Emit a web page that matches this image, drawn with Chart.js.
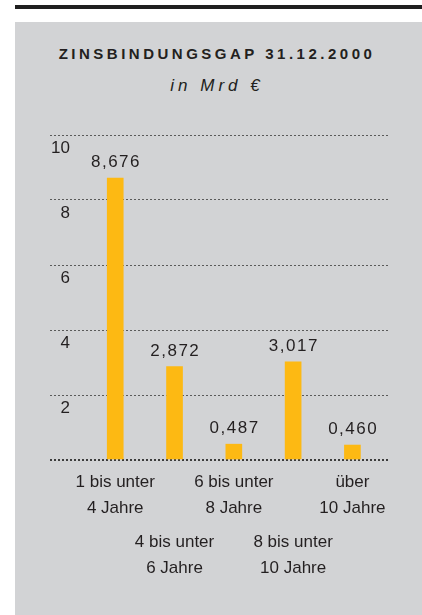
<!DOCTYPE html>
<html lang="de">
<head>
<meta charset="utf-8">
<title>Zinsbindungsgap 31.12.2000</title>
<script src="https://cdn.jsdelivr.net/npm/chart.js@4.4.1/dist/chart.umd.min.js"></script>
<style>
  html, body {
    margin: 0;
    padding: 0;
    background: #ffffff;
    width: 422px;
    height: 615px;
    overflow: hidden;
    font-family: "Liberation Sans", Arial, sans-serif;
    color: #231f20;
  }
  /* thick black rule above the panel */
  #rule {
    position: absolute;
    left: 15px;
    top: 5px;
    width: 407px;
    height: 4px;
    background: #1f1f1f;
  }
  /* grey box that holds the chart */
  #panel {
    position: absolute;
    left: 15px;
    top: 22px;
    width: 407px;
    height: 593px;
    background: #d2d3d5;
  }
  #title {
    position: absolute;
    left: 15px;
    width: 404px;
    top: 44px;
    text-align: center;
    font-weight: bold;
    font-size: 15px;
    letter-spacing: 3.5px;
    line-height: 20px;
  }
  #subtitle {
    position: absolute;
    left: 15px;
    width: 404px;
    top: 75px;
    text-align: center;
    font-style: italic;
    font-size: 17px;
    letter-spacing: 4px;
    line-height: 22px;
  }
  #chart {
    position: absolute;
    left: 0;
    top: 100px;
  }
</style>
</head>
<body>
<div id="rule"></div>
<div id="panel"></div>
<div id="title">ZINSBINDUNGSGAP 31.12.2000</div>
<div id="subtitle">in Mrd €</div>
<canvas id="chart" width="422" height="515"></canvas>

<script>
// ---------------------------------------------
// Data: interest rate gap per maturity band
// ---------------------------------------------
const bands = [
  ["1 bis unter", "4 Jahre"],
  ["4 bis unter", "6 Jahre"],
  ["6 bis unter", "8 Jahre"],
  ["8 bis unter", "10 Jahre"],
  ["über", "10 Jahre"]
];
const gapValues = [8.676, 2.872, 0.487, 3.017, 0.460];
const yTicks = [2, 4, 6, 8, 10];

const textColor = "#231f20";
const barColor = "#fdb913";
const fontFamily = '"Liberation Sans", Arial, sans-serif';

// German number format: 8,676
const formatValue = v => v.toFixed(3).replace(".", ",");

// Bars sit on a numeric x axis (band index) so the grid can run wider than the bars
const points = gapValues.map((v, i) => ({ x: i, y: v }));

// Labels for the two rows under the axis: even bands on the first row, odd on the second
function bandLabel(value, row) {
  if (!Number.isInteger(value) || value < 0 || value >= bands.length) return "";
  return value % 2 === row ? bands[value] : "";
}

// ---------------------------------------------
// Plugin: write each value above its bar
// ---------------------------------------------
const valueLabels = {
  id: "valueLabels",
  afterDatasetsDraw(chart) {
    const ctx = chart.ctx;
    const meta = chart.getDatasetMeta(0);
    ctx.save();
    ctx.font = "17px " + fontFamily;
    ctx.fillStyle = textColor;
    ctx.textAlign = "center";
    ctx.textBaseline = "alphabetic";
    ctx.letterSpacing = "1.5px";
    meta.data.forEach((bar, i) => {
      ctx.fillText(formatValue(gapValues[i]), bar.x + 0.75, bar.y - 11);
    });
    ctx.restore();
  }
};

const xTickFont = { family: fontFamily, size: 17, lineHeight: "26px" };

// shared settings for the two label rows under the bars
function bandAxis(row, pad) {
  return {
    type: "linear",
    axis: "x",
    position: "bottom",
    offset: false,
    min: -1.1,
    max: 4.6,
    grid: { display: false, drawTicks: false },
    border: { display: false },
    afterFit(scale) { scale.height = 64; },
    ticks: {
      stepSize: 1,
      includeBounds: false,
      autoSkip: false,
      maxRotation: 0,
      minRotation: 0,
      padding: pad,
      color: textColor,
      font: xTickFont,
      callback: value => bandLabel(value, row)
    }
  };
}

new Chart(document.getElementById("chart").getContext("2d"), {
  type: "bar",
  data: {
    datasets: [{
      data: points,
      backgroundColor: barColor,
      borderWidth: 0,
      barThickness: 16
    }]
  },
  options: {
    responsive: false,
    animation: false,
    devicePixelRatio: 1,
    layout: {
      padding: { left: 48, right: 34, top: 35, bottom: 27 }
    },
    plugins: {
      legend: { display: false },
      tooltip: { enabled: false }
    },
    scales: {
      x: bandAxis(0, 9),
      x2: bandAxis(1, 5),
      y: {
        min: 0,
        max: 10,
        afterBuildTicks(scale) {
          scale.ticks = [0].concat(yTicks).map(v => ({ value: v }));
        },
        grid: {
          drawTicks: false,
          color: ctx => ctx.tick && ctx.tick.value === 0 ? "#3c3c3c" : "#5a5a5a",
          lineWidth: ctx => ctx.tick && ctx.tick.value === 0 ? 2 : 1
        },
        border: { display: false, dash: [2, 2] },
        ticks: {
          mirror: true,
          crossAlign: "far",
          padding: 1,
          labelOffset: 13,
          color: textColor,
          font: { family: fontFamily, size: 17 },
          callback: value => (value === 0 ? "" : String(value))
        }
      }
    }
  },
  plugins: [valueLabels]
});
</script>
</body>
</html>
